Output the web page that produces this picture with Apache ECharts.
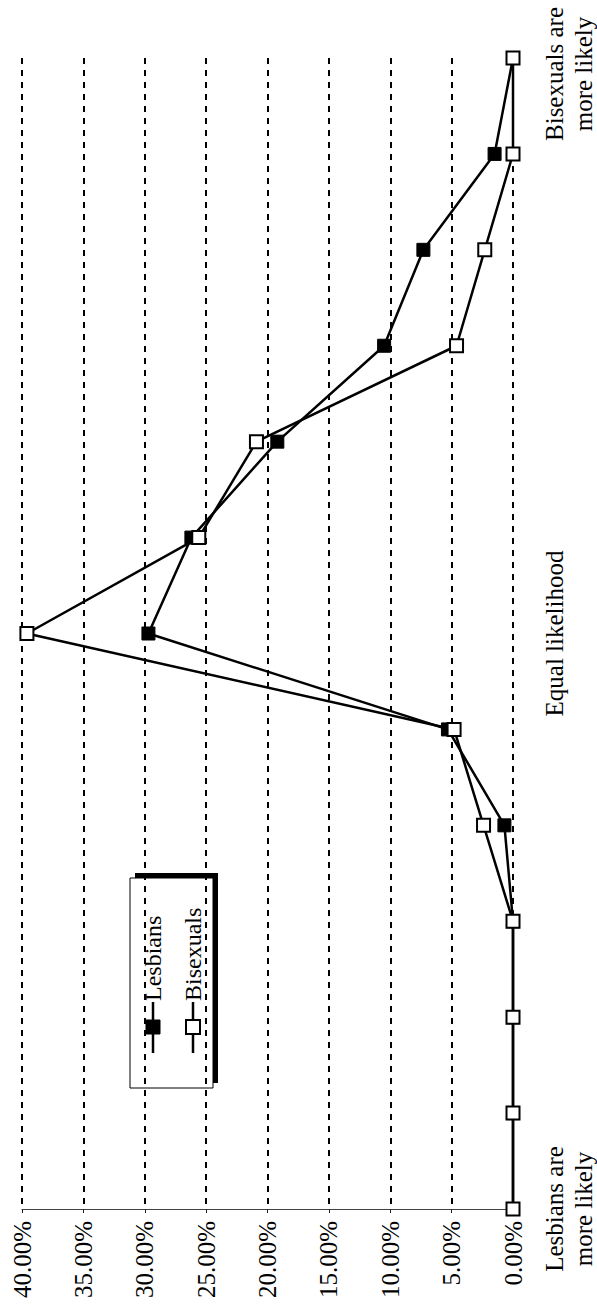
<!DOCTYPE html>
<html>
<head>
<meta charset="utf-8">
<style>
  html, body { margin: 0; padding: 0; background: #fff; }
  #chart { width: 597px; height: 1310px; }
</style>
<script src="https://cdn.jsdelivr.net/npm/echarts@6/dist/echarts.min.js"></script>
</head>
<body>
<div id="chart"></div>
<script>
// 13-point scale, from "lesbians more likely" to "bisexuals more likely"
var scalePoints = ["1", "2", "3", "4", "5", "6", "7", "8", "9", "10", "11", "12", "13"];
var scaleLabels = ["Lesbians are\nmore likely", "", "", "", "", "", "Equal likelihood", "", "", "", "", "", "Bisexuals are\nmore likely"];
// percent of respondents
var lesbians = [0, 0, 0, 0, 0.7, 5.3, 29.7, 26.2, 19.2, 10.5, 7.3, 1.5, 0];
var bisexuals = [0, 0, 0, 0, 2.4, 4.8, 39.6, 25.6, 20.9, 4.6, 2.3, 0, 0];

var serif = "'Liberation Serif', 'Times New Roman', serif";

var chart = echarts.init(document.getElementById("chart"), null, { renderer: "svg" });

var option = {
  animation: false,
  backgroundColor: "#fff",
  grid: { left: 22, right: 84, top: 58, bottom: 101, outerBoundsMode: "none", containLabel: false },
  xAxis: {
    type: "value",
    inverse: true,
    min: 0,
    max: 40,
    interval: 5,
    axisLine: { show: true, onZero: false, lineStyle: { color: "#444", width: 1 } },
    axisTick: { show: true, length: 4, lineStyle: { color: "#222" } },
    splitLine: { show: true, lineStyle: { color: "#000", width: 2, type: [6, 6] } },
    axisLabel: {
      rotate: 90,
      margin: 12,
      fontFamily: serif,
      fontSize: 25,
      color: "#000",
      formatter: function (v) { return v.toFixed(2) + "%"; }
    }
  },
  yAxis: {
    type: "category",
    position: "right",
    boundaryGap: false,
    data: scalePoints,
    axisLine: { show: false },
    axisTick: { show: false },
    splitLine: { show: false },
    axisLabel: {
      interval: 0,
      rotate: 90,
      margin: 27,
      fontFamily: serif,
      fontSize: 25,
      lineHeight: 29,
      color: "#000",
      formatter: function (v, i) {
        var t = scaleLabels[i];
        if (!t) return "";
        if (i === scaleLabels.length - 1) {
          // keep the top label inside the page
          return t.split("\n").map(function (s) { return "{shift|" + s + "}"; }).join("\n");
        }
        return t;
      },
      rich: {
        shift: { fontFamily: serif, fontSize: 25, lineHeight: 29, color: "#000", padding: [0, 32, 0, 0] }
      }
    }
  },
  series: [
    {
      name: "Lesbians",
      type: "line",
      data: lesbians,
      symbol: "rect",
      symbolSize: 13,
      showAllSymbol: true,
      lineStyle: { color: "#000", width: 2.5 },
      itemStyle: { color: "#000", borderColor: "#000", borderWidth: 1 },
      z: 2
    },
    {
      name: "Bisexuals",
      type: "line",
      data: bisexuals,
      symbol: "rect",
      symbolSize: 13,
      showAllSymbol: true,
      lineStyle: { color: "#000", width: 2.5 },
      itemStyle: { color: "#fff", borderColor: "#000", borderWidth: 2 },
      z: 3
    }
  ],
  graphic: [
    {
      type: "group",
      x: 130,
      y: 1088,
      rotation: Math.PI / 2,
      children: [
        { type: "rect", shape: { x: 5, y: 5, width: 210, height: 83 }, style: { fill: "#000" } },
        { type: "rect", shape: { x: 0, y: 0, width: 210, height: 83 }, style: { fill: "#fff", stroke: "#000", lineWidth: 1 } },
        { type: "line", shape: { x1: 35, y1: 23, x2: 86, y2: 23 }, style: { stroke: "#000", lineWidth: 2.5 } },
        { type: "rect", shape: { x: 54, y: 16, width: 14, height: 14 }, style: { fill: "#000", stroke: "#000", lineWidth: 1 } },
        { type: "text", x: 87, y: 23, style: { text: "Lesbians", fontFamily: serif, fontSize: 24, fill: "#000", align: "left", verticalAlign: "middle" } },
        { type: "line", shape: { x1: 35, y1: 63, x2: 86, y2: 63 }, style: { stroke: "#000", lineWidth: 2.5 } },
        { type: "rect", shape: { x: 54, y: 56, width: 14, height: 14 }, style: { fill: "#fff", stroke: "#000", lineWidth: 2 } },
        { type: "text", x: 87, y: 63, style: { text: "Bisexuals", fontFamily: serif, fontSize: 24, fill: "#000", align: "left", verticalAlign: "middle" } }
      ]
    }
  ]
};

chart.setOption(option);
</script>
</body>
</html>
